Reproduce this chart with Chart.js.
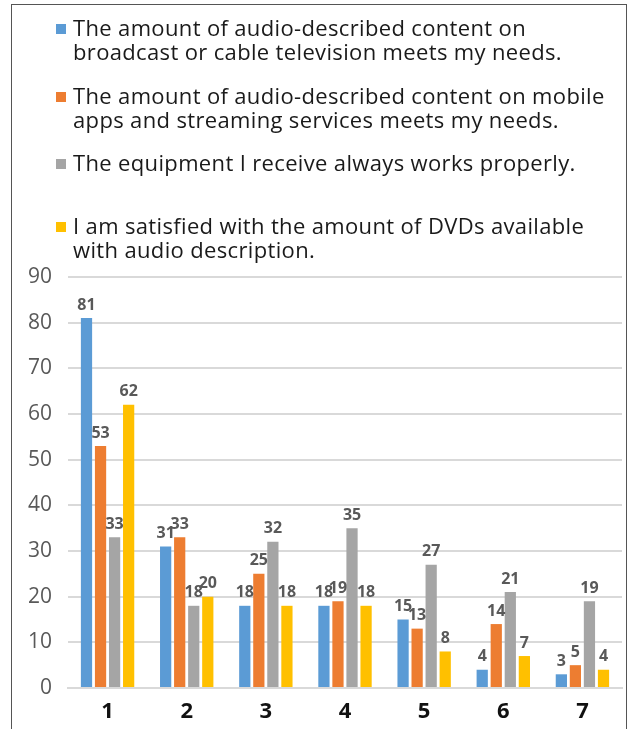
<!DOCTYPE html>
<html>
<head>
<meta charset="utf-8">
<script src="https://cdn.jsdelivr.net/npm/chart.js@4.4.0/dist/chart.umd.min.js"></script>
<style>
    html, body { margin: 0; padding: 0; background: #fff; }
    #page { position: relative; width: 632px; height: 729px; overflow: hidden; font-family: "Open Sans", sans-serif; }
    #frame { position: absolute; left: 11px; top: 4px; width: 614px; height: 760px; border: 1.5px solid #555; }
    #chartCanvas { position: absolute; left: 0; top: 0; }
    .legend-item { position: absolute; left: 73px; width: 548px; font-size: 22px; letter-spacing: 0.35px; line-height: 24px; color: #1a1a1a; font-weight: 500; white-space: normal; }
    .legend-item .swatch { position: absolute; left: -17px; top: 9px; width: 10px; height: 10px; }
    .legend-item:nth-child(1) { top: 15px; }
    .legend-item:nth-child(2) { top: 83px; }
    .legend-item:nth-child(3) { top: 150px; }
    .legend-item:nth-child(4) { top: 213px; }
</style>
</head>
<body>
<div id="page">
    <div id="frame"></div>
    <canvas id="chartCanvas" width="632" height="729"></canvas>
    <div id="legend"></div>
</div>
<script>
// Categories and series values
const categories = ['1', '2', '3', '4', '5', '6', '7'];
const seriesNames = [
    'The amount of audio-described content on broadcast or cable television meets my needs.',
    'The amount of audio-described content on mobile apps and streaming services meets my needs.',
    'The equipment I receive always works properly.',
    'I am satisfied with the amount of DVDs available with audio description.'
];
const broadcastValues = [81, 31, 18, 18, 15, 4, 3];
const streamingValues = [53, 33, 25, 19, 13, 14, 5];
const equipmentValues = [33, 18, 32, 35, 27, 21, 19];
const dvdValues = [62, 20, 18, 18, 8, 7, 4];
const seriesColors = ['#5B9BD5', '#ED7D31', '#A5A5A5', '#FFC000'];
const yTicks = [0, 10, 20, 30, 40, 50, 60, 70, 80, 90];

const allValues = [broadcastValues, streamingValues, equipmentValues, dvdValues];

// Build the legend as html so the long labels can wrap
const legendEl = document.getElementById('legend');
seriesNames.forEach(function(name, i) {
    const item = document.createElement('div');
    item.className = 'legend-item';
    const sw = document.createElement('span');
    sw.className = 'swatch';
    sw.style.background = seriesColors[i];
    item.appendChild(sw);
    item.appendChild(document.createTextNode(name));
    legendEl.appendChild(item);
});

// Value labels drawn above each bar
const barLabels = {
    id: 'barLabels',
    afterDatasetsDraw(chart) {
        const ctx = chart.ctx;
        ctx.save();
        ctx.font = 'bold 16px "Open Sans", sans-serif';
        ctx.fillStyle = '#595959';
        ctx.textAlign = 'center';
        ctx.textBaseline = 'bottom';
        chart.data.datasets.forEach(function(ds, i) {
            chart.getDatasetMeta(i).data.forEach(function(bar, j) {
                ctx.fillText(ds.data[j], bar.x, bar.y - 5);
            });
        });
        ctx.restore();
    }
};

const ctx = document.getElementById('chartCanvas');
new Chart(ctx, {
    type: 'bar',
    data: {
        labels: categories,
        datasets: allValues.map(function(vals, i) {
            return {
                label: seriesNames[i],
                data: vals,
                backgroundColor: seriesColors[i],
                categoryPercentage: 0.71,
                barPercentage: 0.8
            };
        })
    },
    options: {
        responsive: false,
        animation: false,
        layout: { padding: { top: 277, right: 10, left: 0, bottom: 0 } },
        plugins: {
            legend: { display: false },
            tooltip: { enabled: false }
        },
        scales: {
            y: {
                min: 0,
                max: 90,
                afterFit: function(scale) { scale.width = 68; },
                afterBuildTicks: function(scale) {
                    scale.ticks = yTicks.map(function(v) { return { value: v }; });
                },
                grid: { color: '#d9d9d9', lineWidth: 2, drawTicks: false },
                border: { display: false },
                ticks: {
                    padding: 16,
                    color: '#595959',
                    font: { family: '"Open Sans", sans-serif', size: 21 }
                }
            },
            x: {
                afterFit: function(scale) { scale.height = 41; },
                grid: { display: false, drawTicks: false },
                border: { color: '#d9d9d9', width: 2 },
                ticks: {
                    padding: 11,
                    color: '#111',
                    font: { family: '"Open Sans", sans-serif', size: 22, weight: 'bold' }
                }
            }
        }
    },
    plugins: [barLabels]
});
</script>
</body>
</html>
